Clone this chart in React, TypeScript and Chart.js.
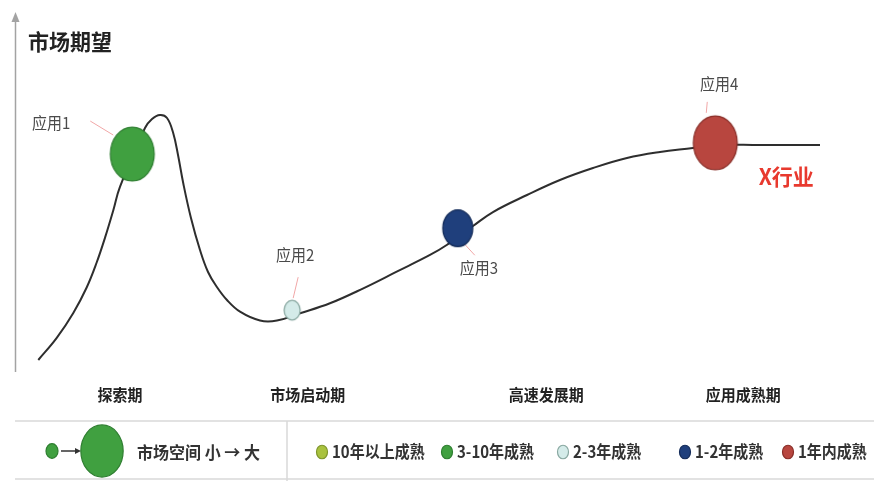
import React, { useEffect, useRef } from "react";
import { Chart, registerables } from "chart.js";
Chart.register(...registerables);

// ---- data ----
const yAxisTitle = "市场期望";
const industryLabel = "X行业";
const curveX = [2.84, 5.09, 7.11, 8.74, 9.96, 10.98, 11.99, 12.8, 15.85, 16.71, 17.68, 18.54, 19.3, 19.88, 20.52, 21.46, 22.56, 23.54, 24.6, 25.85, 27.44, 29.88, 31.95, 34.76, 38.41, 42.48, 46.55, 50.61, 52.65, 55.85, 58.29, 62.44, 66.46, 70.49, 74.63, 78.66, 82.68, 85.37, 90.85, 98.17];
const curveY = [2.86, 9.17, 16.29, 23.57, 30.71, 37.83, 45.66, 52.34, 69.14, 71.71, 72.86, 72.0, 67.63, 61.43, 53.34, 43.43, 34.29, 28.0, 23.8, 20.0, 16.66, 14.14, 14.14, 16.2, 19.06, 23.34, 28.09, 32.86, 35.71, 41.14, 45.14, 50.0, 54.29, 57.71, 60.57, 62.29, 63.43, 64.29, 64.29, 64.29];
const appLabels = ["应用1", "应用2", "应用3", "应用4"];
const appX = [14.3, 33.8, 54.0, 85.4];
const appY = [61.7, 17.1, 40.5, 64.9];
const appMarketSize = [7.5, 1, 3.5, 7.5];
const appMaturity = [1, 2, 3, 4];
const phaseLabels = ["探索期", "市场启动期", "高速发展期", "应用成熟期"];
const phaseX = [12.8, 35.7, 64.8, 88.8];
const maturityLabels = ["10年以上成熟", "3-10年成熟", "2-3年成熟", "1-2年成熟", "1年内成熟"];
const marketLegendText = "市场空间 小 → 大";

// ---- styles ----
const maturityFill = ["#a9c23e", "#40a040", "#d4ebe9", "#1f3f7c", "#b8463f"];
const maturityStroke = ["#7f962c", "#2f7f31", "#8aa9a2", "#142c5a", "#8a2f29"];
const STRETCH = 1.23;
const labelOffsets = [
  { lx: -81, ly: -31, x1: -42, y1: -33, x2: -19, y2: -19 },
  { lx: 3, ly: -55, x1: 6, y1: -33, x2: 1, y2: -12 },
  { lx: 21, ly: 40, x1: 6, y1: 15, x2: 17, y2: 27 },
  { lx: 4, ly: -59, x1: -8, y1: -41, x2: -9, y2: -30 },
];
const legendDotX = [322, 447, 563, 685, 788];
const CJK = '"Noto Sans CJK SC", "Noto Sans", sans-serif';

function radiusOf(size: number) {
  return 8 * Math.sqrt(size);
}

function ellipseCanvas(rx: number, ry: number, fill: string, stroke: string, lw: number) {
  const c = document.createElement("canvas");
  const w = Math.ceil(rx * 2 + lw * 2 + 2);
  const h = Math.ceil(ry * 2 + lw * 2 + 2);
  c.width = w % 2 === 0 ? w : w + 1;
  c.height = h % 2 === 0 ? h : h + 1;
  const g = c.getContext("2d")!;
  g.beginPath();
  g.ellipse(c.width / 2, c.height / 2, rx, ry, 0, 0, Math.PI * 2);
  g.fillStyle = fill;
  g.fill();
  g.lineWidth = lw;
  g.strokeStyle = stroke;
  g.stroke();
  return c;
}

function drawEllipse(ctx: CanvasRenderingContext2D, x: number, y: number, rx: number, ry: number, fill: string, stroke: string) {
  ctx.beginPath();
  ctx.ellipse(x, y, rx, ry, 0, 0, Math.PI * 2);
  ctx.fillStyle = fill;
  ctx.fill();
  ctx.lineWidth = 1.2;
  ctx.strokeStyle = stroke;
  ctx.stroke();
}

function text(ctx: CanvasRenderingContext2D, s: string, x: number, y: number, font: string, color: string, align: CanvasTextAlign = "left", sy = 1) {
  ctx.save();
  ctx.font = font;
  ctx.fillStyle = color;
  ctx.textAlign = align;
  ctx.textBaseline = "middle";
  ctx.translate(x, y);
  ctx.scale(1, sy);
  ctx.fillText(s, 0, 0);
  ctx.restore();
}

const annotationPlugin = {
  id: "hypeAnnotations",
  beforeDatasetsDraw(chart: any) {
    const { ctx, chartArea } = chart;
    const ax = chartArea.left + 0.5;
    ctx.save();
    ctx.strokeStyle = "#a3a3a3";
    ctx.lineWidth = 1.5;
    ctx.beginPath();
    ctx.moveTo(ax, chartArea.bottom + 2);
    ctx.lineTo(ax, chartArea.top - 4);
    ctx.stroke();
    ctx.fillStyle = "#a3a3a3";
    ctx.beginPath();
    ctx.moveTo(ax, chartArea.top - 8);
    ctx.lineTo(ax - 4, chartArea.top + 2);
    ctx.lineTo(ax + 4, chartArea.top + 2);
    ctx.closePath();
    ctx.fill();
    ctx.restore();
    // pointer lines (under bubbles)
    const meta = chart.getDatasetMeta(0);
    ctx.save();
    ctx.strokeStyle = "#f1a7a7";
    ctx.lineWidth = 1;
    meta.data.forEach((pt: any, i: number) => {
      const o = labelOffsets[i];
      ctx.beginPath();
      ctx.moveTo(pt.x + o.x1, pt.y + o.y1);
      ctx.lineTo(pt.x + o.x2, pt.y + o.y2);
      ctx.stroke();
    });
    ctx.restore();
  },
  afterDatasetsDraw(chart: any) {
    const { ctx, chartArea, scales } = chart;
    // title
    text(ctx, yAxisTitle, chartArea.left + 13, chartArea.top + 22, `bold 21px ${CJK}`, "#222", "left", 1.05);
    // app labels
    const meta = chart.getDatasetMeta(0);
    meta.data.forEach((pt: any, i: number) => {
      const o = labelOffsets[i];
      text(ctx, appLabels[i], pt.x + o.lx, pt.y + o.ly, `15px ${CJK}`, "#4a4a4a", "center", 1.05);
    });
    // industry label
    const p4 = meta.data[3];
    text(ctx, industryLabel, p4.x + 71, p4.y + 34, `bold 21px ${CJK}`, "#e8392e", "center", 1.05);
    // phase labels
    phaseLabels.forEach((s, i) => {
      text(ctx, s, scales.x.getPixelForValue(phaseX[i]), chartArea.bottom + 25, `bold 15px ${CJK}`, "#222", "center", 1.08);
    });
    // legend frame
    const ly = chartArea.bottom + 51;
    ctx.save();
    ctx.strokeStyle = "#d9d9d9";
    ctx.lineWidth = 1.5;
    ctx.beginPath();
    ctx.moveTo(chartArea.left, ly);
    ctx.lineTo(chart.width, ly);
    ctx.moveTo(287, ly);
    ctx.lineTo(287, chart.height);
    ctx.moveTo(chartArea.left, chart.height - 2);
    ctx.lineTo(chart.width, chart.height - 2);
    ctx.stroke();
    ctx.restore();
    // market size legend
    const cy = ly + 30;
    const rs = radiusOf(1) * 0.75;
    const rb = radiusOf(7);
    drawEllipse(ctx, 52, cy, rs, rs * STRETCH, maturityFill[1], maturityStroke[1]);
    ctx.save();
    ctx.strokeStyle = "#333";
    ctx.fillStyle = "#333";
    ctx.lineWidth = 1.5;
    ctx.beginPath();
    ctx.moveTo(61, cy);
    ctx.lineTo(76, cy);
    ctx.stroke();
    ctx.beginPath();
    ctx.moveTo(81, cy);
    ctx.lineTo(75, cy - 3);
    ctx.lineTo(75, cy + 3);
    ctx.closePath();
    ctx.fill();
    ctx.restore();
    drawEllipse(ctx, 102, cy, rb, rb * STRETCH, maturityFill[1], maturityStroke[1]);
    text(ctx, marketLegendText, 137, cy + 1, `bold 16px ${CJK}`, "#333", "left", 1.08);
    // maturity legend
    maturityLabels.forEach((s, i) => {
      const x = legendDotX[i];
      drawEllipse(ctx, x, cy + 1, 5.5, 5.5 * STRETCH, maturityFill[i], maturityStroke[i]);
      text(ctx, s, x + 10, cy + 1, `bold 15px ${CJK}`, "#333", "left", 1.1);
    });
  },
};

export default function App() {
  const ref = useRef<HTMLCanvasElement | null>(null);
  useEffect(() => {
    document.body.style.margin = "0";
    document.body.style.background = "#fff";
    const canvas = ref.current!;
    const styles = appX.map((_, i) => {
      const r = radiusOf(appMarketSize[i]);
      const m = appMaturity[i];
      return ellipseCanvas(r, r * STRETCH, maturityFill[m], maturityStroke[m], 1.3);
    });
    const chart = new Chart(canvas, {
      type: "scatter",
      data: {
        datasets: [
          {
            label: "应用",
            data: appX.map((x, i) => ({ x, y: appY[i] })),
            pointStyle: styles as any,
            pointRadius: appMarketSize.map(radiusOf),
            order: 0,
          } as any,
          {
            label: "市场期望",
            data: curveX.map((x, i) => ({ x, y: curveY[i] })),
            showLine: true,
            borderColor: "#2e2e2e",
            borderWidth: 2,
            pointRadius: 0,
            tension: 0.4,
            order: 1,
          } as any,
        ],
      },
      options: {
        animation: false,
        responsive: false,
        maintainAspectRatio: false,
        layout: { autoPadding: false, padding: { left: 15, right: 39, top: 20, bottom: 111 } },
        scales: {
          x: { type: "linear", min: 0, max: 100, display: false },
          y: { type: "linear", min: 0, max: 100, display: false },
        },
        plugins: { legend: { display: false }, tooltip: { enabled: false } },
      },
      plugins: [annotationPlugin],
    });
    return () => chart.destroy();
  }, []);
  return (
    <div style={{ width: 874, height: 481, position: "relative", background: "#fff" }}>
      <canvas ref={ref} width={874} height={481} style={{ display: "block" }} />
    </div>
  );
}
